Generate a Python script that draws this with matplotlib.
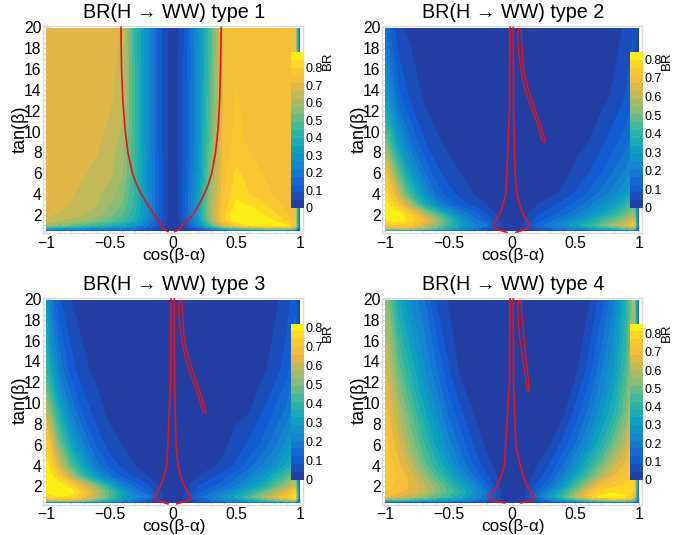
import matplotlib
matplotlib.use("Agg")
import matplotlib.pyplot as plt
import numpy as np
from matplotlib.colors import LinearSegmentedColormap
from matplotlib.ticker import MultipleLocator

plt.rcParams['font.family'] = ['Liberation Sans', 'DejaVu Sans']

W, H = 694, 535

cos_ba = [-1, -.97, -.9, -.8, -.7, -.6, -.5, -.4, -.3, -.2, -.1, -.05, 0, .05, .1, .2, .3, .4, .5, .6, .7, .8, .9, .96, 1]
tan_b = [.5, .7, 1, 1.5, 2, 3, 4, 6, 9, 13, 19.9]

br_type1 = [
 [.12,.12,.11,.11,.10,.10,.09,.08,.07,.05,.02,.01,.00,.01,.02,.05,.09,.13,.16,.18,.19,.20,.20,.18,.05],
 [.34,.33,.31,.29,.27,.25,.23,.21,.17,.11,.04,.02,.00,.02,.05,.13,.26,.40,.48,.53,.57,.62,.62,.52,.08],
 [.60,.58,.55,.52,.48,.44,.40,.36,.30,.18,.07,.03,.00,.03,.08,.25,.48,.68,.78,.84,.87,.87,.85,.78,.10],
 [.66,.65,.63,.61,.58,.55,.51,.46,.37,.24,.10,.04,.00,.04,.12,.30,.58,.78,.88,.89,.88,.84,.78,.75,.10],
 [.675,.67,.66,.64,.62,.59,.55,.49,.40,.26,.11,.05,.00,.05,.13,.33,.60,.79,.89,.88,.85,.81,.76,.74,.10],
 [.69,.685,.68,.665,.645,.625,.58,.53,.42,.27,.11,.05,.00,.05,.13,.33,.60,.77,.855,.84,.81,.77,.74,.735,.10],
 [.69,.69,.685,.67,.65,.63,.60,.55,.43,.27,.11,.05,.00,.05,.13,.32,.58,.75,.835,.80,.78,.75,.735,.735,.10],
 [.69,.69,.69,.685,.67,.655,.635,.58,.44,.27,.11,.05,.00,.05,.12,.30,.55,.74,.81,.785,.755,.74,.735,.735,.10],
 [.69,.69,.69,.69,.685,.675,.65,.60,.44,.26,.10,.05,.00,.05,.11,.28,.52,.73,.77,.745,.74,.735,.735,.735,.10],
 [.69,.69,.69,.69,.69,.69,.675,.64,.44,.26,.10,.05,.00,.05,.11,.28,.50,.72,.76,.74,.735,.735,.735,.735,.10],
 [.69,.69,.69,.69,.69,.69,.69,.66,.42,.26,.10,.05,.00,.05,.10,.27,.48,.72,.735,.735,.735,.735,.735,.735,.10],
]
br_type2 = [
 [.30,.30,.30,.28,.25,.20,.17,.13,.09,.05,.02,.01,.005,.01,.02,.04,.06,.08,.10,.12,.14,.16,.20,.24,.02],
 [.58,.60,.62,.62,.56,.46,.36,.27,.18,.10,.03,.01,.005,.01,.03,.09,.14,.18,.22,.28,.34,.40,.46,.52,.04],
 [.70,.72,.74,.72,.64,.54,.42,.30,.22,.18,.055,.02,.005,.02,.055,.14,.20,.26,.32,.40,.48,.56,.64,.72,.05],
 [.78,.80,.82,.78,.68,.56,.42,.28,.18,.12,.04,.01,.005,.01,.04,.10,.15,.20,.26,.33,.41,.48,.57,.64,.05],
 [.80,.83,.84,.76,.62,.48,.34,.22,.15,.09,.03,.01,.005,.01,.03,.08,.11,.15,.20,.26,.33,.40,.50,.56,.05],
 [.82,.80,.72,.55,.38,.25,.16,.10,.07,.04,.015,.005,.005,.005,.015,.04,.07,.10,.14,.19,.25,.31,.39,.45,.04],
 [.78,.75,.62,.42,.28,.16,.10,.07,.04,.02,.005,.005,.005,.005,.005,.02,.03,.05,.09,.13,.18,.23,.30,.36,.03],
 [.70,.65,.48,.30,.18,.10,.06,.04,.02,.01,.005,.005,.005,.005,.005,.01,.02,.03,.05,.08,.12,.17,.22,.27,.03],
 [.52,.45,.30,.17,.09,.05,.03,.02,.01,.005,.005,.005,.005,.005,.005,.005,.01,.02,.03,.04,.07,.11,.15,.20,.02],
 [.30,.27,.15,.08,.04,.02,.01,.01,.005,.005,.005,.005,.005,.005,.005,.005,.005,.01,.01,.02,.03,.05,.09,.13,.01],
 [.17,.13,.05,.03,.02,.01,.01,.005,.005,.005,.005,.005,.005,.005,.005,.005,.005,.005,.005,.01,.01,.02,.05,.08,.01],
]
br_type3 = [
 [.30,.30,.30,.29,.26,.21,.18,.14,.10,.05,.02,.01,.005,.01,.02,.05,.08,.11,.14,.17,.20,.23,.27,.32,.03],
 [.60,.62,.66,.66,.58,.48,.38,.28,.19,.10,.03,.01,.005,.01,.03,.10,.16,.21,.27,.35,.42,.50,.58,.64,.05],
 [.72,.75,.78,.76,.68,.56,.44,.32,.23,.18,.055,.02,.005,.02,.055,.14,.20,.26,.34,.44,.54,.62,.72,.80,.06],
 [.78,.80,.82,.80,.70,.58,.44,.30,.19,.12,.04,.01,.005,.01,.04,.10,.15,.21,.27,.35,.44,.54,.64,.72,.06],
 [.80,.82,.82,.76,.64,.50,.36,.22,.15,.09,.03,.01,.005,.01,.03,.08,.11,.15,.20,.28,.35,.45,.55,.62,.06],
 [.82,.80,.72,.56,.40,.27,.17,.11,.07,.04,.015,.005,.005,.005,.015,.04,.07,.10,.15,.20,.27,.35,.44,.51,.05],
 [.80,.76,.62,.44,.30,.18,.11,.07,.04,.02,.005,.005,.005,.005,.005,.02,.03,.05,.09,.14,.20,.26,.34,.41,.04],
 [.74,.68,.50,.32,.20,.11,.06,.04,.02,.01,.005,.005,.005,.005,.005,.01,.02,.03,.06,.09,.13,.19,.26,.32,.04],
 [.60,.52,.36,.20,.11,.06,.03,.02,.01,.005,.005,.005,.005,.005,.005,.005,.01,.02,.03,.04,.08,.13,.18,.24,.03],
 [.42,.34,.20,.10,.05,.03,.01,.01,.005,.005,.005,.005,.005,.005,.005,.005,.005,.01,.01,.02,.03,.06,.11,.17,.02],
 [.28,.20,.09,.04,.02,.01,.01,.005,.005,.005,.005,.005,.005,.005,.005,.005,.005,.005,.005,.01,.01,.03,.06,.11,.01],
]
br_type4 = [
 [.12,.12,.12,.11,.10,.09,.08,.07,.06,.04,.02,.01,.005,.01,.02,.05,.08,.11,.15,.18,.22,.24,.24,.22,.04],
 [.44,.44,.44,.42,.38,.34,.30,.25,.19,.12,.04,.01,.005,.01,.03,.11,.20,.30,.40,.50,.58,.62,.60,.52,.06],
 [.68,.67,.64,.60,.55,.48,.42,.35,.27,.17,.05,.02,.005,.02,.04,.16,.30,.44,.60,.74,.83,.85,.82,.72,.08],
 [.72,.72,.70,.66,.62,.54,.46,.38,.28,.17,.05,.02,.005,.01,.03,.14,.24,.38,.52,.68,.78,.80,.78,.76,.08],
 [.74,.74,.70,.68,.62,.54,.44,.34,.25,.14,.04,.01,.005,.01,.02,.10,.18,.30,.44,.60,.72,.76,.78,.78,.08],
 [.76,.76,.72,.66,.56,.46,.36,.26,.17,.09,.03,.01,.005,.01,.02,.06,.12,.21,.33,.46,.58,.68,.73,.77,.08],
 [.76,.75,.70,.62,.50,.40,.30,.20,.12,.06,.02,.01,.005,.01,.01,.04,.09,.17,.27,.38,.50,.62,.70,.76,.08],
 [.74,.72,.66,.55,.44,.33,.23,.15,.08,.03,.01,.005,.005,.005,.01,.02,.04,.10,.17,.27,.38,.50,.62,.72,.08],
 [.70,.68,.60,.48,.36,.26,.16,.09,.04,.02,.01,.005,.005,.005,.005,.01,.02,.03,.10,.18,.28,.38,.52,.68,.08],
 [.65,.62,.50,.38,.27,.18,.09,.03,.01,.01,.005,.005,.005,.005,.005,.005,.01,.02,.03,.10,.20,.30,.45,.60,.08],
 [.55,.50,.35,.25,.18,.08,.035,.02,.01,.005,.005,.005,.005,.005,.005,.005,.005,.01,.02,.03,.10,.20,.38,.58,.08],
]
zmax_values = [.89, .84, .82, .855]
titles = ["type 1", "type 2", "type 3", "type 4"]
panel_grids = [br_type1, br_type2, br_type3, br_type4]

# red exclusion contours (cos, tan)
t1_y = [.4, .6, 1, 1.5, 2, 3, 4, 5, 6, 8, 10, 13, 16, 20]
t1_left_x = [-.04, -.065, -.095, -.12, -.147, -.2, -.25, -.29, -.32, -.355, -.376, -.395, -.405, -.41]
t1_right_x = [.016, .045, .076, .115, .155, .205, .247, .28, .305, .335, .353, .368, .374, .38]

core_x = [-.015, -.02, -.04, -.05, -.07, -.10, -.125, -.145, -.145, -.13, -.10, -.04]
core_y = [20, 12, 6, 4, 3, 2, 1.5, 1.1, .9, .7, .55, .33]
core_rx = [.01, .012, .024, .04, .06, .09, .112, .137, .137, .125, .09, .03]
core_ry = [20, 12, 6, 4, 3, 2, 1.5, 1.1, .9, .7, .55, .33]

core4_x = [-.015, -.02, -.05, -.06, -.085, -.12, -.15, -.18, -.18, -.165, -.12, -.06]
core4_y = [20, 12, 6, 4, 3, 2, 1.5, 1.1, .9, .7, .55, .42]
core4_rx = [.01, .012, .03, .065, .09, .12, .145, .17, .175, .16, .12, .07]
core4_ry = [20, 12, 6, 4, 3, 2, 1.5, 1.1, .9, .7, .55, .42]

loop_x = [.043, .055, .07, .074, .086, .103, .131, .169, .222, .254, .258, .24, .199, .144, .104, .076, .054, .045, .043]
loop_y = [19.3, 19.85, 19.85, 19.3, 16.5, 15.2, 14, 12.6, 10.7, 9.5, 9.0, 9.1, 10.7, 12.6, 14, 15.5, 17.5, 18.8, 19.3]
loop4_x = [.045, .055, .07, .074, .086, .10, .12, .138, .13, .118, .095, .074, .055, .047, .045]
loop4_y = [19.3, 19.85, 19.85, 19.3, 17.5, 15.5, 13.3, 11.3, 11.1, 11.3, 13.5, 15.2, 16.8, 18.3, 19.3]

bird = LinearSegmentedColormap.from_list("bird", list(zip(
    [0, .125, .25, .375, .5, .625, .775, .83, .9, 1],
    [(.16, .22, .60), (.07, .36, .82), (.08, .50, .82),
     (.05, .63, .76), (.20, .72, .62), (.53, .74, .47),
     (.88, .72, .28), (.96, .75, .22), (.99, .80, .18), (.98, .98, .05)])))

FRAME = "#d9d9d9"
fig = plt.figure(figsize=(W / 100, H / 100), dpi=100)


def box(x0, y0, x1, y1):
    return [x0 / W, 1 - y1 / H, (x1 - x0) / W, (y1 - y0) / H]


offsets = [(0, 0), (339, 0), (0, 271.5), (339, 271.5)]
for i, (dx, dy) in enumerate(offsets):
    ax = fig.add_axes(box(43 + dx, 26 + dy, 303 + dx, 233 + dy))
    z = np.array(panel_grids[i])
    levels = np.linspace(0, zmax_values[i], 21)
    cs = ax.contourf(cos_ba, tan_b, z, levels=levels, cmap=bird, extend="neither", zorder=1)
    ax.set_xlim(-1.024, 1.024)
    ax.set_ylim(.27, 20.14)
    ax.set_axisbelow(True)
    ax.xaxis.set_minor_locator(MultipleLocator(.1))
    ax.yaxis.set_minor_locator(MultipleLocator(.5))
    ax.tick_params(which="major", direction="in", length=6, width=.8, color=FRAME, labelsize=11.3, top=False, right=False)
    ax.tick_params(which="minor", direction="in", length=3, width=.8, color=FRAME)
    ax.tick_params(axis="y", which="major", pad=1)
    ax.tick_params(axis="x", which="major", pad=2)
    ax.set_xticks([-1, -.5, 0, .5, 1])
    ax.set_xticklabels(["\u22121", "\u22120.5", "0", "0.5", "1"])
    ax.set_yticks(range(2, 21, 2))
    for s in ax.spines.values():
        s.set_color(FRAME)
        s.set_linewidth(1)
    red = dict(color="#ee1111", lw=1.2, zorder=3)
    if i == 0:
        ax.plot(t1_left_x, t1_y, **red)
        ax.plot(t1_right_x, t1_y, **red)
    elif i == 3:
        ax.plot(core4_x, core4_y, **red)
        ax.plot(core4_rx, core4_ry, **red)
        ax.plot(loop4_x, loop4_y, color="#ee1111", lw=1.0, zorder=3)
    else:
        ax.plot(core_x, core_y, **red)
        ax.plot(core_rx, core_ry, **red)
        ax.plot(loop_x, loop_y, color="#ee1111", lw=1.0, zorder=3)
    fig.text((174 + dx) / W, 1 - (13 + dy) / H, "BR(H \u2192 WW) " + titles[i],
             ha="center", va="center", fontsize=14.2)
    fig.text((174 + dx) / W, 1 - (255.5 + dy) / H, "cos(\u03b2-\u03b1)",
             ha="center", va="center", fontsize=12.3)
    fig.text((20 + dx) / W, 1 - (129 + dy) / H, "tan(\u03b2)", rotation=90,
             ha="center", va="center", fontsize=13)
    cax = fig.add_axes(box(291 + dx, 52 + dy, 304 + dx, 208 + dy))
    cb = fig.colorbar(cs, cax=cax, ticks=np.arange(0, zmax_values[i] + .001, .1))
    cb.outline.set_visible(False)
    cb.ax.minorticks_off()
    cb.ax.tick_params(length=0, labelsize=9, pad=1)
    cb.ax.set_yticklabels(["0"] + ["%.1f" % v for v in np.arange(.1, zmax_values[i] + .001, .1)])
    fig.text((328 + dx) / W, 1 - (61 + dy) / H, "BR", rotation=90, ha="center", va="center", fontsize=9.5)

fig.savefig("out.png", dpi=100)
